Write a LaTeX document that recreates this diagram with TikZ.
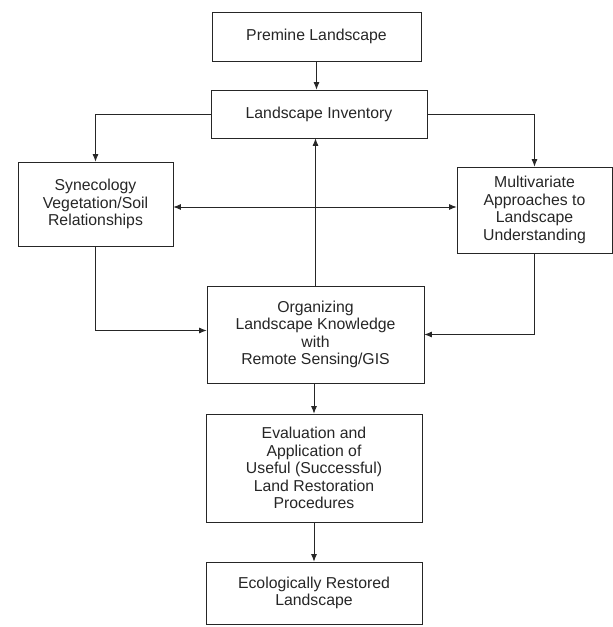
\documentclass[tikz,border=0pt]{standalone}
\usepackage{fontspec}
\setmainfont{Liberation Sans}
\usetikzlibrary{arrows.meta,positioning,calc}
\tikzset{
    line color/.style={black!85},
    stagebox/.style={draw,line color,line width=0.8pt,align=center,inner sep=2pt,
        font=\fontsize{15.8}{17.5}\selectfont},
    arr/.style={->,>={Latex[length=7.5pt,width=6pt]},line color,line width=0.8pt},
    darr/.style={arr,<->},
}

\begin{document}
\begin{tikzpicture}[x=1pt,y=-1pt]
    \useasboundingbox (0,0) rectangle (613,627);
    \node[stagebox,minimum width=209pt,minimum height=49pt] (premine) at (316.5,36.5)
        {Premine Landscape};
    \node[stagebox,minimum width=216pt,minimum height=48pt] (inventory) at (319,114)
        {Landscape Inventory};
    \node[stagebox,minimum width=155pt,minimum height=84pt] (synecology) at (95.5,204)
        {Synecology\\Vegetation/Soil\\Relationships};
    \node[stagebox,minimum width=155pt,minimum height=86pt] (multivariate) at (534.5,210)
        {Multivariate\\Approaches to\\Landscape\\Understanding};
    \node[stagebox,minimum width=217pt,minimum height=97pt] (organizing) at (315.5,334.5)
        {Organizing\\Landscape Knowledge\\with\\Remote Sensing/GIS};
    \node[stagebox,minimum width=216pt,minimum height=108pt] (evaluation) at (314,468)
        {Evaluation and\\Application of\\Useful (Successful)\\Land Restoration\\Procedures};
    \node[stagebox,minimum width=216pt,minimum height=62pt] (restored) at (314,593)
        {Ecologically Restored\\Landscape};

    \draw[arr] (premine.south) -- (premine.south |- inventory.north);
    \draw[arr] (inventory.west) -| (synecology.north);
    \draw[arr] (inventory.east) -| (multivariate.north);
    \draw[darr] ([yshift=-3pt]synecology.east) -- ([yshift=-3pt]synecology.east -| multivariate.west);
    \draw[arr] (organizing.north) -- (organizing.north |- inventory.south);
    \draw[arr] (synecology.south) |- ([yshift=4pt]organizing.west);
    \draw[arr] (multivariate.south) |- (organizing.east);
    \draw[arr] (evaluation.north |- organizing.south) -- (evaluation.north);
    \draw[arr] (evaluation.south) -- (restored.north);
\end{tikzpicture}
\end{document}
